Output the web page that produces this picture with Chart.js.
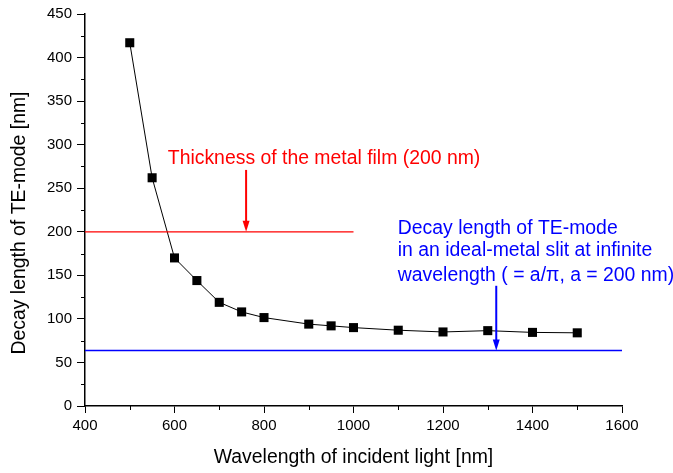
<!DOCTYPE html>
<html>
<head>
<meta charset="utf-8">
<script src="https://cdn.jsdelivr.net/npm/chart.js@4.4.1/dist/chart.umd.min.js"></script>
<style>
  html, body { margin: 0; padding: 0; background: #fff; }
  #wrap { width: 673px; height: 473px; }
</style>
</head>
<body>
<div id="wrap"><canvas id="c" width="673" height="473"></canvas></div>
<script>
// Incident wavelength (nm) and decay length of the TE mode (nm)
const wavelength = [500, 550, 600, 650, 700, 750, 800, 900, 950, 1000, 1100, 1200, 1300, 1400, 1500];
const decayLength = [417, 262, 170, 144, 119, 108, 101.5, 94, 92, 90, 87, 85, 86.5, 84.5, 84];

// Reference levels
const filmThickness = 200;              // metal film thickness, nm
const slitWidth = 200;                  // a, nm
const idealDecay = slitWidth / Math.PI; // a / pi

// Axis ranges and tick steps
const xRange = [400, 1600];
const yRange = [0, 450];
const xMajorStep = 200, xMinorStep = 100;
const yMajorStep = 50, yMinorStep = 25;

const yTitle = 'Decay length of TE-mode [nm]';
const xTitle = 'Wavelength of incident light [nm]';

const FONT = "'Liberation Sans', Arial, sans-serif";

// Minor ticks, y title, arrows and annotation text drawn through the chart's scales
const decorations = {
  id: 'decorations',
  afterDraw(chart) {
    const { ctx, scales: { x, y } } = chart;
    ctx.save();
    // minor ticks
    ctx.strokeStyle = '#000';
    ctx.lineWidth = 1;
    ctx.beginPath();
    for (let v = xRange[0] + xMinorStep; v < xRange[1]; v += xMajorStep) {
      const px = Math.round(x.getPixelForValue(v)) + 0.5;
      ctx.moveTo(px, y.bottom);
      ctx.lineTo(px, y.bottom + 4);
    }
    for (let v = yRange[0] + yMinorStep; v < yRange[1]; v += yMajorStep) {
      const py = Math.round(y.getPixelForValue(v)) + 0.5;
      ctx.moveTo(x.left, py);
      ctx.lineTo(x.left - 4, py);
    }
    ctx.stroke();

    // y axis title, set a little below the middle of the axis
    ctx.save();
    ctx.translate(25, (y.top + y.bottom) / 2 + 13);
    ctx.rotate(-Math.PI / 2);
    ctx.font = '19.4px ' + FONT;
    ctx.fillStyle = '#000';
    ctx.textAlign = 'center';
    ctx.textBaseline = 'alphabetic';
    ctx.fillText(yTitle, 0, 0);
    ctx.restore();

    const arrow = (xv, y0, y1, color) => {
      const px = x.getPixelForValue(xv);
      const p0 = y.getPixelForValue(y0);
      const p1 = y.getPixelForValue(y1);
      ctx.strokeStyle = color;
      ctx.fillStyle = color;
      ctx.lineWidth = 2;
      ctx.beginPath();
      ctx.moveTo(px, p0);
      ctx.lineTo(px, p1 - 8);
      ctx.stroke();
      ctx.beginPath();
      ctx.moveTo(px - 3.5, p1 - 11);
      ctx.lineTo(px + 3.5, p1 - 11);
      ctx.lineTo(px, p1);
      ctx.closePath();
      ctx.fill();
    };
    arrow(760, 271, filmThickness, '#ff0000');
    arrow(1319, 138, idealDecay, '#0000ff');

    ctx.font = '19.4px ' + FONT;
    ctx.textBaseline = 'alphabetic';
    ctx.textAlign = 'left';
    ctx.fillStyle = '#ff0000';
    ctx.fillText('Thickness of the metal film (200 nm)', x.getPixelForValue(585), y.getPixelForValue(278));
    ctx.fillStyle = '#0000ff';
    const bx = x.getPixelForValue(1099);
    ctx.fillText('Decay length of TE-mode', bx, y.getPixelForValue(198));
    ctx.fillText('in an ideal-metal slit at infinite', bx, y.getPixelForValue(172.5));
    ctx.fillText('wavelength ( = a/\u03c0, a = 200 nm)', bx, y.getPixelForValue(144));
    ctx.restore();
  }
};

new Chart(document.getElementById('c'), {
  type: 'line',
  data: {
    datasets: [
      {
        label: 'Thickness of the metal film',
        data: [{ x: xRange[0], y: filmThickness }, { x: 1000, y: filmThickness }],
        borderColor: '#ff0000',
        borderWidth: 1.2,
        pointRadius: 0
      },
      {
        label: 'Ideal-metal slit',
        data: [{ x: xRange[0], y: idealDecay }, { x: xRange[1], y: idealDecay }],
        borderColor: '#0000ff',
        borderWidth: 1.5,
        pointRadius: 0
      },
      {
        label: 'Decay length',
        data: wavelength.map((w, i) => ({ x: w, y: decayLength[i] })),
        borderColor: '#000',
        borderWidth: 1,
        pointStyle: 'rect',
        pointRadius: 6.4,
        pointBorderWidth: 0,
        pointBackgroundColor: '#000',
        tension: 0
      }
    ]
  },
  options: {
    responsive: false,
    animation: false,
    layout: { padding: { top: 13, right: 51, left: 0, bottom: 0 } },
    plugins: { legend: { display: false }, tooltip: { enabled: false } },
    scales: {
      x: {
        type: 'linear',
        min: xRange[0],
        max: xRange[1],
        afterFit(s) { s.height = 67; },
        border: { display: true, color: '#000', width: 1.5 },
        grid: { drawOnChartArea: false, drawTicks: true, tickLength: 7, tickColor: '#000', tickWidth: 1 },
        ticks: { stepSize: xMajorStep, color: '#000', font: { family: FONT, size: 15 }, padding: 4, maxRotation: 0, callback: v => String(v) },
        title: { display: true, text: xTitle, color: '#000', font: { family: FONT, size: 19.4 }, padding: { top: 0, bottom: 4 } }
      },
      y: {
        type: 'linear',
        min: yRange[0],
        max: yRange[1],
        afterFit(s) { s.width = 85; },
        border: { display: true, color: '#000', width: 1.5 },
        grid: { drawOnChartArea: false, drawTicks: true, tickLength: 8, tickColor: '#000', tickWidth: 1 },
        ticks: { stepSize: yMajorStep, color: '#000', font: { family: FONT, size: 15 }, padding: 5, callback: v => String(v) },
        title: { display: false }
      }
    }
  },
  plugins: [decorations]
});
</script>
</body>
</html>
